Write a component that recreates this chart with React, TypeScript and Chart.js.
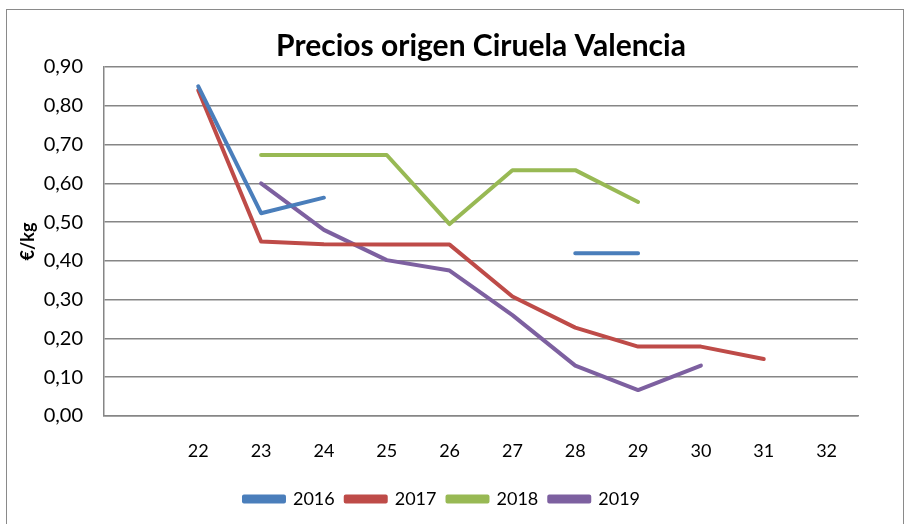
import React, { useEffect, useRef } from "react";
import { Chart, registerables } from "chart.js";

Chart.register(...registerables);

const weeks = ["", "22", "23", "24", "25", "26", "27", "28", "29", "30", "31", "32"];
const s2016 = [null, 0.85, 0.523, 0.563, null, null, null, 0.42, 0.42, null, null, null];
const s2017 = [null, 0.84, 0.45, 0.443, 0.442, 0.442, 0.308, 0.228, 0.179, 0.179, 0.147, null];
const s2018 = [null, null, 0.673, 0.673, 0.673, 0.495, 0.634, 0.634, 0.552, null, null, null];
const s2019 = [null, null, 0.60, 0.48, 0.402, 0.375, 0.26, 0.13, 0.067, 0.13, null, null];
const yTicks = ["0,00", "0,10", "0,20", "0,30", "0,40", "0,50", "0,60", "0,70", "0,80", "0,90"];

const FONT = "Lato, 'Open Sans', sans-serif";

const borderPlugin = {
  id: "outerBorder",
  beforeDraw(chart: any) {
    const ctx = chart.ctx;
    ctx.save();
    ctx.fillStyle = "#ffffff";
    ctx.fillRect(0, 0, chart.width, chart.height);
    ctx.strokeStyle = "#8a8a8a";
    ctx.lineWidth = 1;
    ctx.strokeRect(6.5, 9.5, 897, 540);
    ctx.restore();
  },
};

export default function App() {
  const ref = useRef<HTMLCanvasElement>(null);
  useEffect(() => {
    if (!ref.current) return;
    const mk = (label: string, data: (number | null)[], color: string) => ({
      label,
      data,
      borderColor: color,
      backgroundColor: color,
      borderWidth: 4,
      pointRadius: 0,
      tension: 0,
      spanGaps: false,
      borderCapStyle: "round",
      borderJoinStyle: "round",
    });
    const chart = new Chart(ref.current, {
      type: "line",
      data: {
        labels: weeks,
        datasets: [
          mk("2016", s2016, "#4A7EBB"),
          mk("2017", s2017, "#BE4B48"),
          mk("2018", s2018, "#98B954"),
          mk("2019", s2019, "#7D60A0"),
        ] as any,
      },
      plugins: [borderPlugin],
      options: {
        animation: false,
        responsive: false,
        layout: { padding: { left: 26, right: 52, top: 0, bottom: 6 } },
        plugins: {
          title: {
            display: true,
            text: "Precios origen Ciruela Valencia",
            fullSize: false,
            color: "#000",
            font: { family: FONT, size: 30, weight: "bold" },
            padding: { top: 28, bottom: 3 },
          },
          legend: {
            position: "bottom",
            labels: {
              color: "#000",
              font: { family: FONT, size: 18 },
              boxWidth: 40,
              boxHeight: 5,
              padding: 11,
            },
          },
          tooltip: { enabled: false },
        },
        scales: {
          x: {
            offset: true,
            grid: { display: false, drawTicks: false },
            border: { display: true, color: "#868686", width: 1.5 },
            ticks: { color: "#000", font: { family: FONT, size: 18 }, padding: 24, maxRotation: 0, autoSkip: false },
            afterFit(axis: any) { axis.height = 63; },
          },
          y: {
            min: 0,
            max: 0.9,
            grid: { color: "#868686", lineWidth: 1.5, drawTicks: false },
            border: { display: true, color: "#868686", width: 1.5 },
            ticks: {
              stepSize: 0.1,
              color: "#000",
              padding: 21,
              font: { family: FONT, size: 20 },
              callback: (v: any, i: number) => yTicks[i],
            },
            title: {
              display: true,
              text: "€/kg",
              color: "#000",
              font: { family: FONT, size: 18, weight: "bold" },
              padding: { top: -9, bottom: 0 },
            },
            afterFit(axis: any) { axis.width = 78; },
          },
        },
      },
    });
    return () => chart.destroy();
  }, []);
  return (
    <div style={{ position: "fixed", left: 0, top: 0, width: 910, height: 524, background: "#fff" }}>
      <canvas ref={ref} width={910} height={524} />
    </div>
  );
}
